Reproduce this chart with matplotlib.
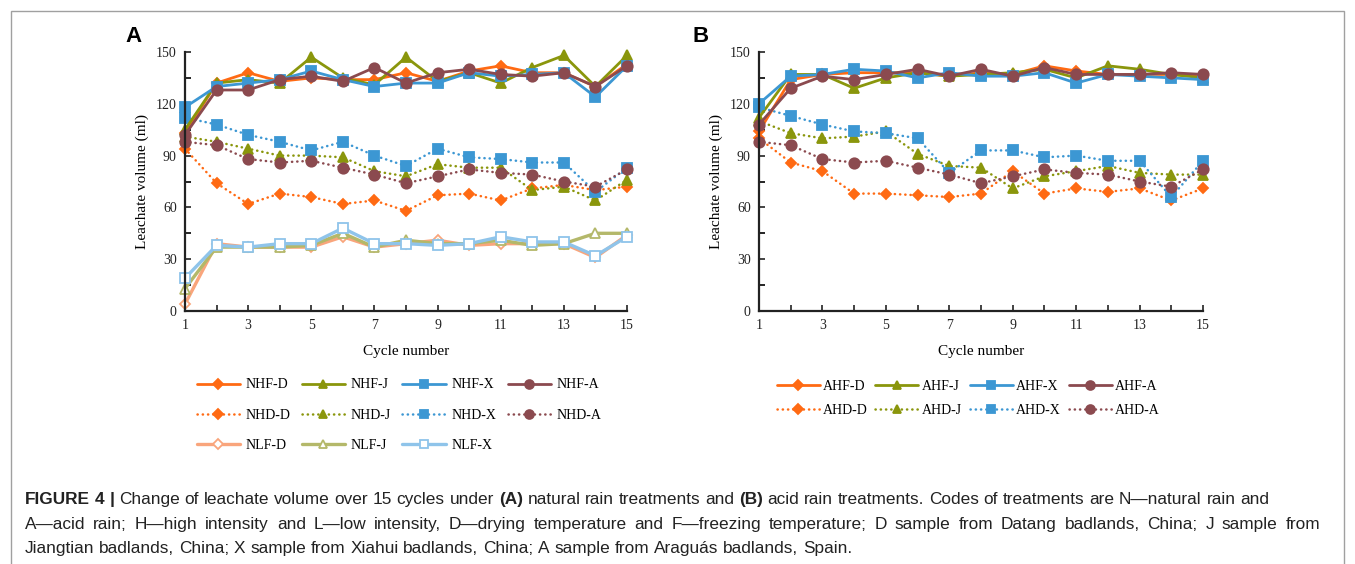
import matplotlib
matplotlib.use("Agg")
import matplotlib.pyplot as plt
from matplotlib.lines import Line2D
from matplotlib.patches import Rectangle
import numpy as np

plt.rcParams["font.family"] = ["Liberation Serif", "DejaVu Serif"]

cycles = np.arange(1, 16)

# panel A - natural rain
nhf_d = [103, 132, 138, 133, 135, 134, 134, 138, 133, 139, 142, 138, 138, 130, 143]
nhf_j = [105, 132, 134, 132, 147, 135, 131, 147, 133, 138, 132, 141, 148, 130, 148]
nhf_x = [118, 130, 132, 134, 139, 134, 130, 132, 132, 138, 136, 137, 138, 124, 142]
nhf_a = [102, 128, 128, 134, 136, 133, 141, 132, 138, 140, 137, 136, 138, 130, 142]
nhd_d = [94, 74, 62, 68, 66, 62, 64, 58, 67, 68, 64, 71, 73, 70, 72]
nhd_j = [101, 98, 94, 90, 90, 89, 81, 78, 85, 83, 83, 70, 72, 64, 76]
nhd_x = [112, 108, 102, 98, 93, 98, 90, 84, 94, 89, 88, 86, 86, 69, 83]
nhd_a = [98, 96, 88, 86, 87, 83, 79, 74, 78, 82, 80, 79, 75, 72, 82]
nlf_d = [4, 39, 37, 37, 37, 43, 37, 39, 41, 38, 39, 39, 39, 31, 44]
nlf_j = [13, 37, 37, 37, 38, 45, 37, 41, 39, 39, 41, 38, 39, 45, 45]
nlf_x = [19, 38, 37, 39, 39, 48, 39, 39, 38, 39, 43, 40, 40, 32, 43]

# panel B - acid rain
ahf_d = [104, 134, 137, 138, 138, 138, 136, 138, 137, 142, 139, 137, 137, 137, 136]
ahf_j = [112, 137, 137, 129, 135, 138, 136, 137, 138, 140, 135, 142, 140, 137, 135]
ahf_x = [120, 136, 137, 140, 139, 135, 138, 136, 136, 138, 132, 137, 136, 135, 134]
ahf_a = [108, 129, 136, 134, 137, 140, 136, 140, 136, 141, 137, 137, 137, 138, 137]
ahd_d = [100, 86, 81, 68, 68, 67, 66, 68, 81, 68, 71, 69, 71, 64, 71]
ahd_j = [110, 103, 100, 101, 104, 91, 84, 83, 71, 78, 81, 84, 80, 79, 79]
ahd_x = [118, 113, 108, 104, 103, 100, 80, 93, 93, 89, 90, 87, 87, 66, 87]
ahd_a = [98, 96, 88, 86, 87, 83, 79, 74, 78, 82, 80, 79, 75, 72, 82]

ORANGE, OLIVE, BLUE, BROWN = "#ff6a13", "#8a960c", "#3c97d3", "#8b4a4f"
L_ORANGE, L_OLIVE, L_BLUE = "#f9a57c", "#b4b86a", "#8fc4ea"
DOT = (0, (0.1, 2.0))

fig = plt.figure(figsize=(13.55, 5.64), dpi=100)
W, H = 1355, 564


def px_axes(x0, x1, y_top, y_bot):
    return fig.add_axes([x0 / W, 1 - y_bot / H, (x1 - x0) / W, (y_bot - y_top) / H])


def style(ax):
    ax.set_xlim(1, 15)
    ax.set_ylim(0, 150)
    ax.set_xticks(cycles)
    ax.set_xticklabels([str(c) if c % 2 else "" for c in cycles])
    ax.set_yticks(range(0, 151, 30))
    ax.set_yticks(range(15, 150, 30), minor=True)
    for s in ("top", "right"):
        ax.spines[s].set_visible(False)
    for s in ("left", "bottom"):
        ax.spines[s].set_linewidth(1.6)
        ax.spines[s].set_color("#222222")
    ax.tick_params(direction="in", length=4, width=1.2, labelsize=10, colors="#222222", pad=6)
    ax.tick_params(which="minor", direction="in", length=4, width=1.2)
    ax.set_xlabel("Cycle number", fontsize=11, labelpad=9)
    ax.set_ylabel("Leachate volume (ml)", fontsize=11, labelpad=5)


def line(ax, y, color, marker, ls="-", mfc=None, ms=6.5, lw=2.0, label=None):
    return ax.plot(cycles, y, color=color, ls=ls, lw=lw, marker=marker, ms=ms,
                   mfc=mfc if mfc else color, mec=color, mew=1.3,
                   clip_on=False, label=label, solid_capstyle="round",
                   dash_capstyle="round")[0]


# ---- panel A
axA = px_axes(185, 627, 52, 311)
style(axA)
hA = {}
hA["NLF-D"] = line(axA, nlf_d, L_ORANGE, "D", mfc="white", ms=5.5, lw=2.4, label="NLF-D")
hA["NLF-J"] = line(axA, nlf_j, L_OLIVE, "^", mfc="white", ms=6.5, lw=2.4, label="NLF-J")
hA["NLF-X"] = line(axA, nlf_x, L_BLUE, "s", mfc="white", ms=7, lw=2.4, label="NLF-X")
hA["NHD-D"] = line(axA, nhd_d, ORANGE, "D", ls=DOT, ms=5.5, lw=1.8, label="NHD-D")
hA["NHD-J"] = line(axA, nhd_j, OLIVE, "^", ls=DOT, ms=7, lw=1.8, label="NHD-J")
hA["NHD-X"] = line(axA, nhd_x, BLUE, "s", ls=DOT, ms=7, lw=1.8, label="NHD-X")
hA["NHD-A"] = line(axA, nhd_a, BROWN, "o", ls=DOT, ms=7.5, lw=1.8, label="NHD-A")
hA["NHF-D"] = line(axA, nhf_d, ORANGE, "D", ms=5.5, label="NHF-D")
hA["NHF-J"] = line(axA, nhf_j, OLIVE, "^", ms=7, label="NHF-J")
hA["NHF-X"] = line(axA, nhf_x, BLUE, "s", ms=7, label="NHF-X")
hA["NHF-A"] = line(axA, nhf_a, BROWN, "o", ms=7.5, label="NHF-A")

# ---- panel B
axB = px_axes(759, 1203, 52, 311)
style(axB)
hB = {}
hB["AHD-D"] = line(axB, ahd_d, ORANGE, "D", ls=DOT, ms=5.5, lw=1.8, label="AHD-D")
hB["AHD-J"] = line(axB, ahd_j, OLIVE, "^", ls=DOT, ms=7, lw=1.8, label="AHD-J")
hB["AHD-X"] = line(axB, ahd_x, BLUE, "s", ls=DOT, ms=7, lw=1.8, label="AHD-X")
hB["AHD-A"] = line(axB, ahd_a, BROWN, "o", ls=DOT, ms=7.5, lw=1.8, label="AHD-A")
hB["AHF-D"] = line(axB, ahf_d, ORANGE, "D", ms=5.5, label="AHF-D")
hB["AHF-J"] = line(axB, ahf_j, OLIVE, "^", ms=7, label="AHF-J")
hB["AHF-X"] = line(axB, ahf_x, BLUE, "s", ms=7, label="AHF-X")
hB["AHF-A"] = line(axB, ahf_a, BROWN, "o", ms=7.5, label="AHF-A")

# legends (column-major fill, so order by column)
blank = Line2D([], [], color="none")
orderA = ["NHF-D", "NHD-D", "NLF-D", "NHF-J", "NHD-J", "NLF-J",
          "NHF-X", "NHD-X", "NLF-X", "NHF-A", "NHD-A", None]
fig.legend([hA[k] if k else blank for k in orderA], [k if k else "" for k in orderA],
           ncol=4, loc="upper left", bbox_to_anchor=(184 / W, 1 - 366 / H),
           frameon=False, fontsize=10, handlelength=3.1, handletextpad=0.4,
           columnspacing=0.85, labelspacing=1.25, markerscale=0.85)

orderB = ["AHF-D", "AHD-D", "AHF-J", "AHD-J", "AHF-X", "AHD-X", "AHF-A", "AHD-A"]
fig.legend([hB[k] for k in orderB], orderB,
           ncol=4, loc="upper left", bbox_to_anchor=(764 / W, 1 - 367 / H),
           frameon=False, fontsize=10, handlelength=3.1, handletextpad=0.25,
           columnspacing=0.55, labelspacing=0.8, markerscale=0.85)

# panel letters
fig.text(125 / W, 1 - 37 / H, "A", fontsize=16, fontweight="bold", family="Liberation Sans",
         va="center", ha="left")
fig.text(693 / W, 1 - 37 / H, "B", fontsize=16, fontweight="bold", family="Liberation Sans",
         va="center", ha="left")

# outer frame
fig.add_artist(Rectangle((11 / W, -0.05), (1344 - 11) / W, 1 - 11 / H + 0.05,
                         transform=fig.transFigure, fill=False, ec="#a0a0a0", lw=1.0))

# caption: word by word; line 2 is spread wider like the reference
cap_lines = [
    [("FIGURE 4 |", "bold"), ("Change of leachate volume over 15 cycles under", "normal"),
     ("(A)", "bold"), ("natural rain treatments and", "normal"), ("(B)", "bold"),
     ("acid rain treatments. Codes of treatments are N\u2014natural rain and", "normal")],
    [("A\u2014acid rain; H\u2014high intensity and L\u2014low intensity, D\u2014drying temperature and "
      "F\u2014freezing temperature; D sample from Datang badlands, China; J sample from", "normal")],
    [("Jiangtian badlands, China; X sample from Xiahui badlands, China; A sample from "
      "Aragu\u00e1s badlands, Spain.", "normal")],
]
cap_y = [504, 529, 553]
cap_end = [None, 1320, None]
x_start = 25
CAP_FS = 12.4
renderer = fig.canvas.get_renderer()
probe1 = fig.text(0, 0, "x x", fontsize=CAP_FS, family="Liberation Sans")
probe2 = fig.text(0, 0, "xx", fontsize=CAP_FS, family="Liberation Sans")
space = probe1.get_window_extent(renderer).width - probe2.get_window_extent(renderer).width
probe1.remove()
probe2.remove()
for pieces, yp, x_end in zip(cap_lines, cap_y, cap_end):
    words = [(w, wt) for txt, wt in pieces for w in txt.split(" ")]
    texts = [fig.text(0, 1 - yp / H, w, fontsize=CAP_FS, fontweight=wt,
                      family="Liberation Sans", color="#222222", ha="left", va="baseline")
             for w, wt in words]
    widths = [t.get_window_extent(renderer).width for t in texts]
    gap = space if x_end is None else (x_end - x_start - sum(widths)) / (len(texts) - 1)
    x = x_start
    for t, w in zip(texts, widths):
        t.set_x(x / W)
        x += w + gap

fig.savefig("out.png", dpi=100)
